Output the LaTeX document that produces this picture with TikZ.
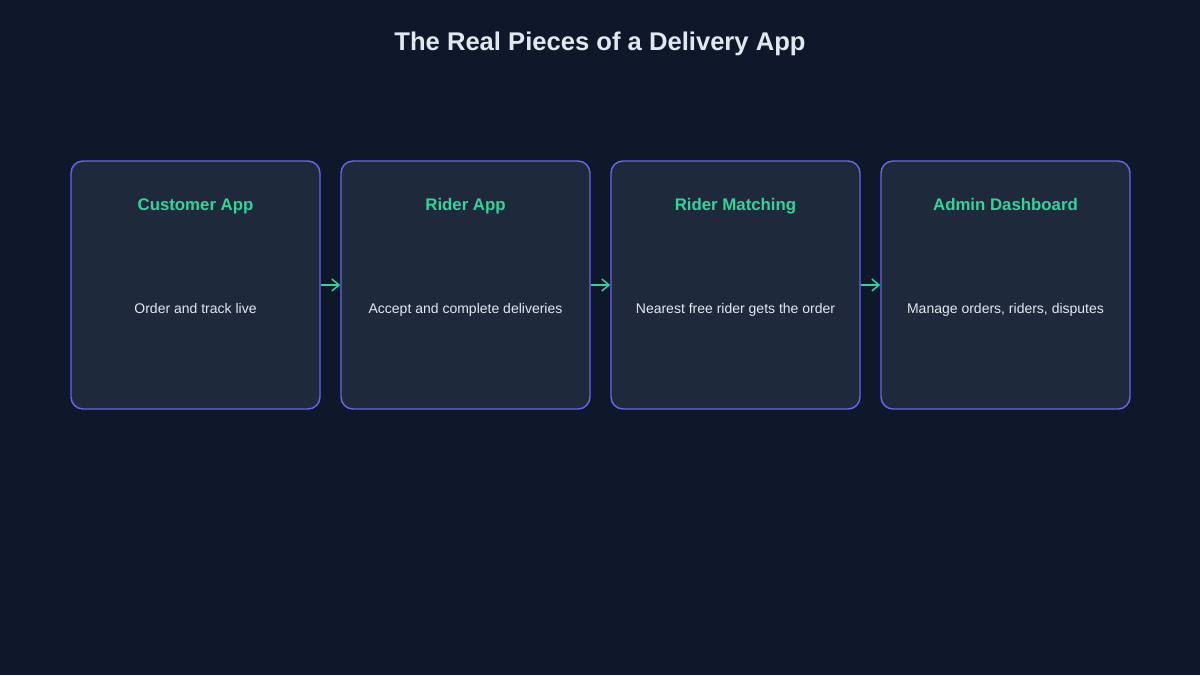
\documentclass[tikz,border=0pt]{standalone}
\usepackage{fontspec}
\setmainfont{Liberation Sans}
\usetikzlibrary{arrows.meta}
\definecolor{pagebg}{HTML}{0F172A}
\definecolor{boxbg}{HTML}{1E293B}
\definecolor{boxline}{HTML}{6366F1}
\definecolor{headgreen}{HTML}{34D399}
\definecolor{softtext}{HTML}{E2E8F0}
\begin{document}
\begin{tikzpicture}[x=0.75pt,y=0.75pt,yscale=-1,xscale=1,
  piece/.style={draw=boxline,fill=boxbg,line width=1.1pt,rounded corners=9pt,minimum width=186.75pt,minimum height=186pt,inner sep=0pt},
  piecehead/.style={text=headgreen,font=\fontsize{12.6pt}{14pt}\selectfont\bfseries,text height=0.72em,text depth=0pt},
  piecetext/.style={text=softtext,font=\fontsize{10.5pt}{12pt}\selectfont,text height=0.72em,text depth=0pt},
  flow/.style={draw=headgreen,line width=1.1pt,-{Straight Barb[length=5.5pt,width=9pt]}}]
%set diagram page at 1200 x 675
\fill [pagebg] (0,0) rectangle (1200,675) ;
\useasboundingbox (0,0) rectangle (1200,675) ;

% Title
\draw (600,46) node [text=softtext,font=\fontsize{19.2pt}{22pt}\selectfont\bfseries,text height=0.72em,text depth=0pt] (title) {The Real Pieces of a Delivery App};

%Shape: Rectangles
\draw (195.5,285) node [piece] (customer) {};
\draw (465.5,285) node [piece] (rider) {};
\draw (735.5,285) node [piece] (matching) {};
\draw (1005.5,285) node [piece] (admin) {};

% Text Node
\draw (195.5,206) node [piecehead] (customerhead) {Customer App};
% Text Node
\draw (465.5,206) node [piecehead] (riderhead) {Rider App};
% Text Node
\draw (735.5,206) node [piecehead] (matchinghead) {Rider Matching};
% Text Node
\draw (1005.5,206) node [piecehead] (adminhead) {Admin Dashboard};

% Text Node
\draw (195.5,309) node [piecetext] (customertext) {Order and track live};
% Text Node
\draw (465.5,309) node [piecetext] (ridertext) {Accept and complete deliveries};
% Text Node
\draw (735.5,309) node [piecetext] (matchingtext) {Nearest free rider gets the order};
% Text Node
\draw (1005.5,309) node [piecetext] (admintext) {Manage orders, riders, disputes};

%Straight Lines
\draw [flow] (customer.east) -- (rider.west) ;
%Straight Lines
\draw [flow] (rider.east) -- (matching.west) ;
%Straight Lines
\draw [flow] (matching.east) -- (admin.west) ;

\end{tikzpicture}
\end{document}
